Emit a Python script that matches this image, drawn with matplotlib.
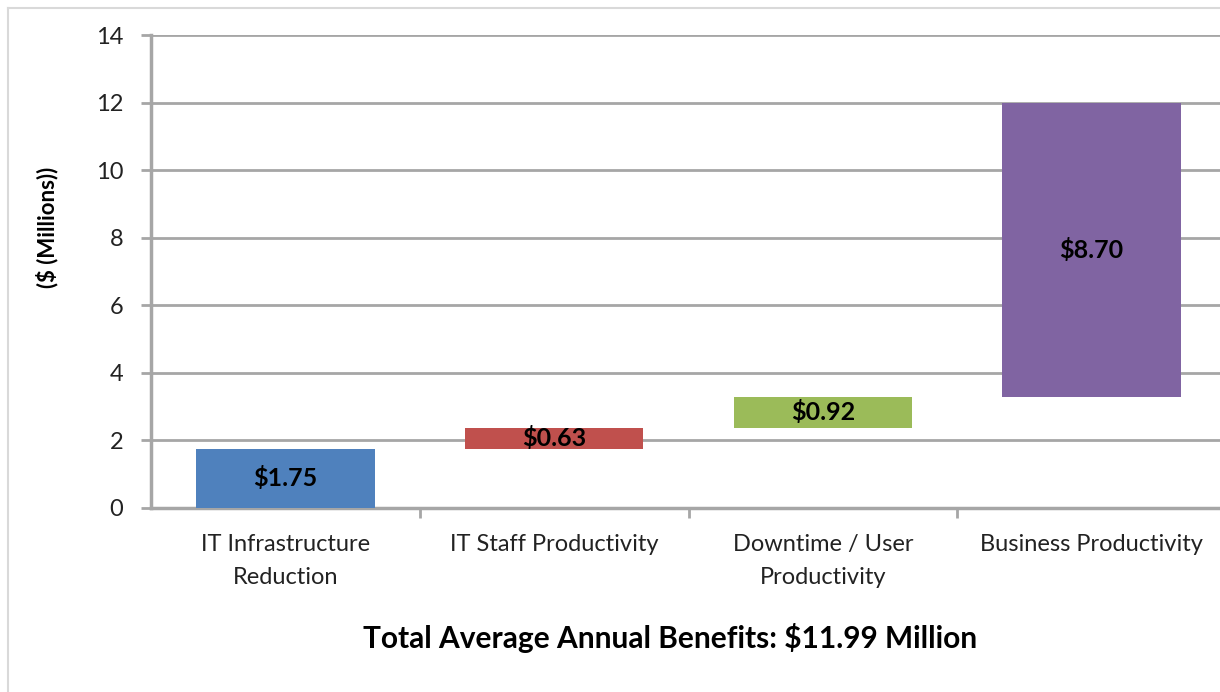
import matplotlib
matplotlib.use("Agg")
import matplotlib.pyplot as plt
from matplotlib.lines import Line2D

categories = ["IT Infrastructure\nReduction", "IT Staff Productivity",
              "Downtime / User\nProductivity", "Business Productivity"]
values = [1.75, 0.63, 0.92, 8.70]
labels = ["$1.75", "$0.63", "$0.92", "$8.70"]
colors = ["#4F81BD", "#C0504D", "#9BBB59", "#8064A2"]
y_ticks = [0, 2, 4, 6, 8, 10, 12, 14]

plt.rcParams['font.family'] = ['Lato', 'DejaVu Sans']

W, H = 1220, 692
fig = plt.figure(figsize=(W / 100, H / 100), dpi=100)
ax = fig.add_axes([151 / W, 1 - 508 / H, (1226 - 151) / W, (508 - 35) / H])

# waterfall: each bar starts where the previous one ended
bottoms = []
run = 0
for v in values:
    bottoms.append(run)
    run += v

x = range(len(values))
ax.bar(x, values, bottom=bottoms, width=0.665, color=colors, zorder=3)
for i, (b, v, lab) in enumerate(zip(bottoms, values, labels)):
    ax.text(i, b + v / 2, lab, ha='center', va='center', fontsize=18,
            fontweight='bold', color='black', zorder=4)

ax.set_xlim(-0.5, 3.5)
ax.set_ylim(0, 14)
ax.set_yticks(y_ticks)
ax.set_yticklabels([str(t) for t in y_ticks], fontsize=17, color='#222222')
ax.yaxis.grid(True, color='#a6a6a6', linewidth=2, zorder=0)
ax.tick_params(axis='y', length=7, width=2, color='#a6a6a6', pad=13)

# category labels centred, tick marks on the boundaries
ax.set_xticks([0.5, 1.5, 2.5])
ax.set_xticklabels([])
ax.tick_params(axis='x', length=7, width=2, color='#a6a6a6', direction='out')
for i, c in enumerate(categories):
    ax.text(i, -0.76, c, ha='center', va='top', fontsize=17,
            linespacing=1.7, color='#222222')

for s in ['top', 'right']:
    ax.spines[s].set_visible(False)
for s in ['left', 'bottom']:
    ax.spines[s].set_color('#a6a6a6')
    ax.spines[s].set_linewidth(2.5)

fig.text(47 / W, 1 - 227 / H, "($ (Millions))", rotation=90,
         ha='center', va='center', fontsize=16, fontweight='bold')

fig.text(670 / W, 1 - 638 / H, "Total Average Annual Benefits: $11.99 Million",
         ha='center', va='center', fontsize=21.5, fontweight='bold')

# faint chart border
fig.add_artist(Line2D([8 / W, 8 / W], [0, 1 - 8 / H], color='#d9d9d9', lw=1.5))
fig.add_artist(Line2D([8 / W, 1], [1 - 8 / H, 1 - 8 / H], color='#d9d9d9', lw=1.5))

fig.savefig("out.png", dpi=100, facecolor='white')
